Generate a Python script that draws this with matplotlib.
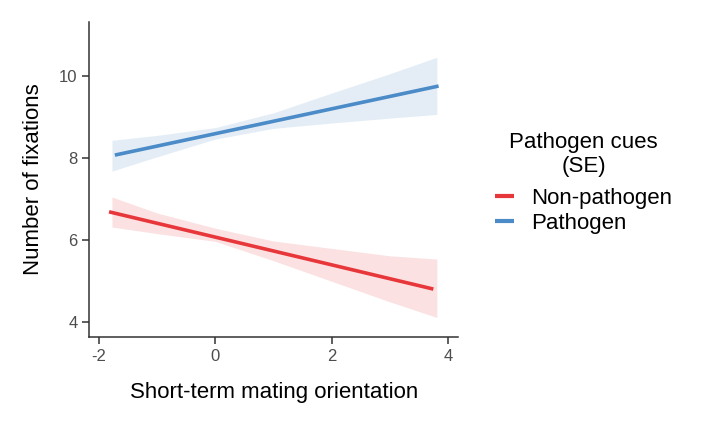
import matplotlib.pyplot as plt
import numpy as np

plt.rcParams['font.family'] = ['Liberation Sans', 'DejaVu Sans']

# values
x_band = [-1.78, -1, 0, 1, 2, 3, 3.81]

nonpath_x = [-1.83, 3.75]
nonpath_y = [6.69, 4.81]
nonpath_hi = [7.05, 6.66, 6.29, 5.98, 5.80, 5.62, 5.54]
nonpath_lo = [6.32, 6.16, 5.97, 5.50, 5.00, 4.50, 4.12]

path_x = [-1.73, 3.84]
path_y = [8.07, 9.75]
path_hi = [8.43, 8.55, 8.74, 9.10, 9.58, 10.05, 10.45]
path_lo = [7.68, 8.03, 8.46, 8.72, 8.85, 8.97, 9.06]

xticks = [-2, 0, 2, 4]
yticks = [4, 6, 8, 10]

red = '#E8373B'
blue = '#4B8BC8'

fig = plt.figure(figsize=(7.03, 4.22), dpi=100)
ax = fig.add_axes([0.127, 0.202, 0.525, 0.747])

ax.fill_between(x_band, nonpath_lo, nonpath_hi, color=red, alpha=0.15, lw=0)
ax.fill_between(x_band, path_lo, path_hi, color=blue, alpha=0.15, lw=0)
ax.plot(nonpath_x, nonpath_y, color=red, lw=2.6, solid_capstyle='butt', label='Non-pathogen')
ax.plot(path_x, path_y, color=blue, lw=2.6, solid_capstyle='butt', label='Pathogen')

ax.set_xlim(-2.17, 4.18)
ax.set_ylim(3.65, 11.32)
ax.set_xticks(xticks)
ax.set_yticks(yticks)
ax.set_xticklabels([str(t) for t in xticks])

for s in ['top', 'right']:
    ax.spines[s].set_visible(False)
for s in ['left', 'bottom']:
    ax.spines[s].set_color('#333333')
    ax.spines[s].set_linewidth(1.1)
ax.tick_params(colors='#333333', labelcolor='#4D4D4D', labelsize=12, length=5, width=1.1)

ax.set_xlabel('Short-term mating orientation', fontsize=16, labelpad=13)
ax.set_ylabel('Number of fixations', fontsize=16, labelpad=11)

leg = fig.legend(loc='center left', bbox_to_anchor=(0.676, 0.567), frameon=False,
                 title='Pathogen cues\n(SE)', fontsize=16, title_fontsize=16,
                 handlelength=0.85, handletextpad=0.75, labelspacing=0.15,
                 alignment='center')
leg.get_title().set_multialignment('center')
leg._legend_box.sep = 8
for l in leg.get_lines():
    l.set_linewidth(3)

fig.savefig('out.png', dpi=100)
